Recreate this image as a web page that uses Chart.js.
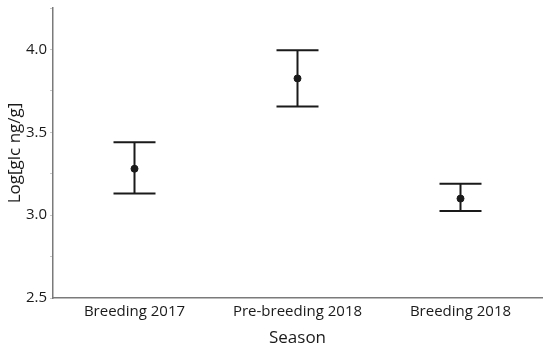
<!DOCTYPE html>
<html>
<head>
<meta charset="utf-8">
<script src="https://cdn.jsdelivr.net/npm/chart.js@4"></script>
<style>
  html, body { margin: 0; padding: 0; background: #fff; }
  #wrap { width: 550px; height: 348px; }
</style>
</head>
<body>
<div id="wrap"><canvas id="chart"></canvas></div>
<script>
const seasons = ["Breeding 2017", "Pre-breeding 2018", "Breeding 2018"];
const means = [3.28, 3.825, 3.10];
const lower = [3.13, 3.655, 3.025];
const upper = [3.44, 3.995, 3.19];

const axisColor = "#7a7a7a";
const inkColor = "#1a1a1a";
const fontFamily = "'Open Sans', 'Noto Sans', sans-serif";

// whiskers + caps, drawn under the mean dots
const errorBars = {
  id: "errorBars",
  beforeDatasetsDraw(chart) {
    const ctx = chart.ctx;
    const x = chart.scales.x;
    const y = chart.scales.y;
    ctx.save();
    ctx.strokeStyle = inkColor;
    ctx.lineWidth = 2;
    seasons.forEach((s, i) => {
      const px = x.getPixelForValue(i);
      const top = y.getPixelForValue(upper[i]);
      const bot = y.getPixelForValue(lower[i]);
      ctx.beginPath();
      ctx.moveTo(px, top);
      ctx.lineTo(px, bot);
      ctx.moveTo(px - 21, top);
      ctx.lineTo(px + 21, top);
      ctx.moveTo(px - 21, bot);
      ctx.lineTo(px + 21, bot);
      ctx.stroke();
    });
    ctx.restore();
  }
};

new Chart(document.getElementById("chart"), {
  type: "line",
  data: {
    labels: seasons,
    datasets: [{
      data: means,
      showLine: false,
      pointRadius: 3.5,
      pointBackgroundColor: inkColor,
      pointBorderColor: inkColor,
      pointBorderWidth: 1
    }]
  },
  plugins: [errorBars],
  options: {
    responsive: true,
    maintainAspectRatio: false,
    animation: false,
    layout: { padding: { top: 8, right: 8, left: 0, bottom: 0 } },
    plugins: { legend: { display: false }, tooltip: { enabled: false } },
    scales: {
      x: {
        offset: true,
        grid: { display: false, drawTicks: false },
        border: { color: axisColor, width: 1.5 },
        ticks: {
          color: inkColor,
          padding: 5,
          font: { family: fontFamily, size: 15 }
        },
        title: {
          display: true,
          text: "Season",
          color: inkColor,
          padding: { top: 2, bottom: 0 },
          font: { family: fontFamily, size: 17 }
        },
        afterFit(scale) {
          scale.height = 50;
          scale.paddingLeft = 0;
          scale.paddingRight = 0;
        }
      },
      y: {
        min: 2.5,
        max: 4.25,
        grid: {
          drawOnChartArea: false,
          tickLength: 3,
          tickColor: "#c8c8c8"
        },
        border: { color: axisColor, width: 1.5 },
        ticks: {
          stepSize: 0.25,
          autoSkip: false,
          padding: 3,
          color: inkColor,
          font: { family: fontFamily, size: 15 },
          callback: v => (Math.abs(v * 2 - Math.round(v * 2)) < 1e-6 ? v.toFixed(1) : "")
        },
        title: {
          display: true,
          text: "Log[glc ng/g]",
          color: inkColor,
          padding: { top: 5, bottom: 2 },
          font: { family: fontFamily, size: 17 }
        },
        afterFit(scale) {
          scale.width = 53;
          scale.paddingTop = 0;
          scale.paddingBottom = 0;
        }
      }
    }
  }
});
</script>
</body>
</html>
